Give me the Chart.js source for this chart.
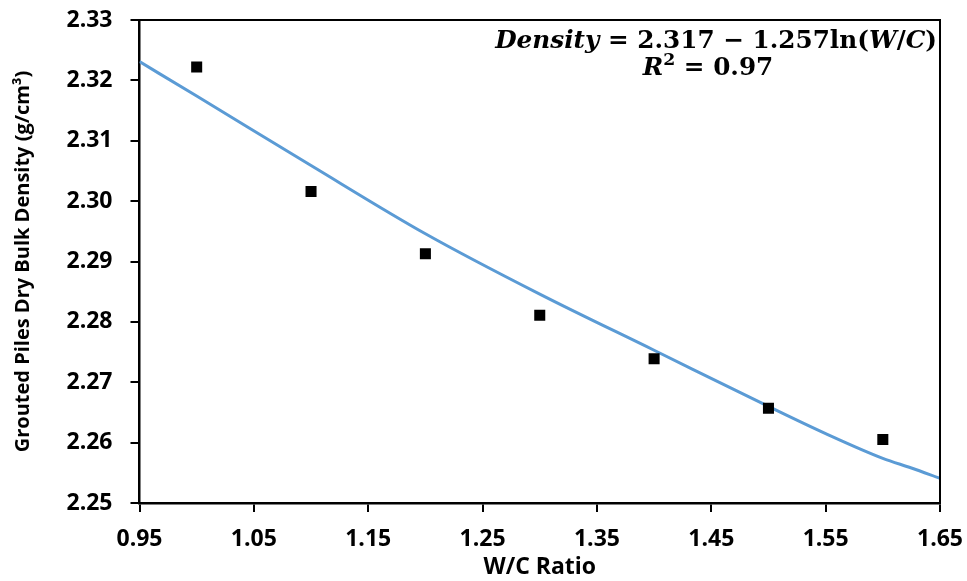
<!DOCTYPE html>
<html lang="en">
<head>
    <meta charset="UTF-8">
    <title>Grouted piles density vs W/C</title>
    <script src="https://cdn.jsdelivr.net/npm/chart.js"></script>
    <style>
        body {
            margin: 0;
            background: #ffffff;
        }

        .chart-container {
            width: 967px;
            height: 581px;
        }
    </style>
</head>
<body>
<div class="chart-container">
    <canvas id="chart1" width="967" height="581"></canvas>
</div>

<script>
    // Measured points
    const wcRatio = [1.0, 1.1, 1.2, 1.3, 1.4, 1.5, 1.6];
    const density = [2.3222, 2.3016, 2.2913, 2.2811, 2.2739, 2.2657, 2.2605];

    // Trend line
    const trendX = [0.95, 1.0, 1.1, 1.2, 1.3, 1.4, 1.5, 1.55, 1.6, 1.625, 1.65];
    const trendY = [2.3231, 2.3174, 2.3059, 2.2946, 2.2846, 2.2753, 2.2660, 2.2615, 2.2574, 2.2558, 2.2541];

    // Tick labels
    const xTicks = [0.95, 1.05, 1.15, 1.25, 1.35, 1.45, 1.55, 1.65];
    const yTicks = [2.25, 2.26, 2.27, 2.28, 2.29, 2.30, 2.31, 2.32, 2.33];

    const eqLine1 = [
        {t: 'Density', it: true},
        {t: ' = 2.317 \u2212 1.257ln(', it: false},
        {t: 'W', it: true},
        {t: '/', it: false},
        {t: 'C', it: true},
        {t: ')', it: false}
    ];
    const eqLine2 = [
        {t: 'R', it: true},
        {t: '2', it: false, sup: true},
        {t: ' = 0.97', it: false}
    ];

    const FONT = "'Open Sans', sans-serif";
    const MATH_FONT = "'DejaVu Serif', serif";

    // рамка вокруг области графика
    const framePlugin = {
        id: 'frame',
        afterDraw(chart) {
            const {ctx, chartArea: a} = chart;
            ctx.save();
            ctx.strokeStyle = '#000';
            ctx.lineWidth = 2;
            ctx.beginPath();
            ctx.moveTo(a.left, a.top);
            ctx.lineTo(a.right, a.top);
            ctx.lineTo(a.right, a.bottom);
            ctx.stroke();
            ctx.restore();
        }
    };

    // уравнение тренда
    const equationPlugin = {
        id: 'equation',
        afterDraw(chart) {
            const ctx = chart.ctx;
            const fontOf = (seg, s) => (seg.it ? 'italic ' : '') + 'bold ' + (seg.sup ? s * 0.7 : s) + 'px ' + MATH_FONT;
            const widthOf = (line, s) => line.reduce((w, seg) => {
                ctx.font = fontOf(seg, s);
                return w + ctx.measureText(seg.t).width;
            }, 0);
            const drawLine = (line, x, y, s) => {
                line.forEach(seg => {
                    ctx.font = fontOf(seg, s);
                    ctx.fillText(seg.t, x, seg.sup ? y - s * 0.4 : y);
                    x += ctx.measureText(seg.t).width;
                });
            };
            ctx.save();
            ctx.fillStyle = '#000';
            ctx.textBaseline = 'alphabetic';
            ctx.textAlign = 'left';
            // подгоняем размер под ширину строки
            const size = 24 * 442 / widthOf(eqLine1, 24);
            const w1 = widthOf(eqLine1, size);
            drawLine(eqLine1, 937 - w1, 48, size);
            const w2 = widthOf(eqLine2, size);
            drawLine(eqLine2, 708 - w2 / 2, 75, size);
            ctx.restore();
        }
    };

    const ctx = document.getElementById('chart1').getContext('2d');
    const chart = new Chart(ctx, {
        type: 'scatter',
        data: {
            datasets: [{
                label: 'Measured',
                data: wcRatio.map((x, i) => ({x: x, y: density[i]})),
                showLine: false,
                pointStyle: 'rect',
                pointRadius: 7.8,
                pointBackgroundColor: '#000',
                pointBorderWidth: 0,
                pointBorderColor: '#000'
            }, {
                label: 'Trend',
                data: trendX.map((x, i) => ({x: x, y: trendY[i]})),
                showLine: true,
                pointRadius: 0,
                borderColor: '#5B9BD5',
                borderWidth: 3,
                cubicInterpolationMode: 'monotone',
                fill: false
            }]
        },
        options: {
            responsive: false,
            animation: false,
            devicePixelRatio: 1,
            layout: {
                padding: {top: 20, right: 27, left: 0, bottom: 0}
            },
            plugins: {
                legend: {display: false},
                tooltip: {enabled: false}
            },
            scales: {
                x: {
                    type: 'linear',
                    min: 0.95,
                    max: 1.65,
                    afterBuildTicks: scale => {
                        scale.ticks = xTicks.map(v => ({value: v}));
                    },
                    afterFit: scale => {
                        scale.height = 78;
                        scale.paddingLeft = 0;
                        scale.paddingRight = 0;
                    },
                    border: {color: '#000', width: 2.5},
                    grid: {
                        drawOnChartArea: false,
                        color: '#000',
                        lineWidth: 2,
                        tickLength: 9
                    },
                    ticks: {
                        color: '#000',
                        padding: 14,
                        autoSkip: false,
                        maxRotation: 0,
                        font: {family: FONT, size: 23, weight: 'bold'},
                        callback: v => v.toFixed(2)
                    },
                    title: {
                        display: true,
                        text: 'W/C Ratio',
                        color: '#000',
                        padding: {top: 0, bottom: 0},
                        font: {family: FONT, size: 23, weight: 'bold'}
                    }
                },
                y: {
                    type: 'linear',
                    min: 2.25,
                    max: 2.33,
                    afterBuildTicks: scale => {
                        scale.ticks = yTicks.map(v => ({value: v}));
                    },
                    afterFit: scale => {
                        scale.width = 139.5;
                        scale.paddingTop = 0;
                        scale.paddingBottom = 0;
                    },
                    border: {color: '#000', width: 2.5},
                    grid: {
                        drawOnChartArea: false,
                        color: '#000',
                        lineWidth: 2,
                        tickLength: 9
                    },
                    ticks: {
                        color: '#000',
                        padding: 18,
                        font: {family: FONT, size: 23, weight: 'bold'},
                        callback: v => v.toFixed(2)
                    },
                    title: {
                        display: true,
                        text: 'Grouted Piles Dry Bulk Density (g/cm\u00B3)',
                        color: '#000',
                        padding: {top: 11, bottom: 0},
                        font: {family: FONT, size: 20, weight: 'bold'}
                    }
                }
            }
        },
        plugins: [framePlugin, equationPlugin]
    });
</script>

</body>
</html>
